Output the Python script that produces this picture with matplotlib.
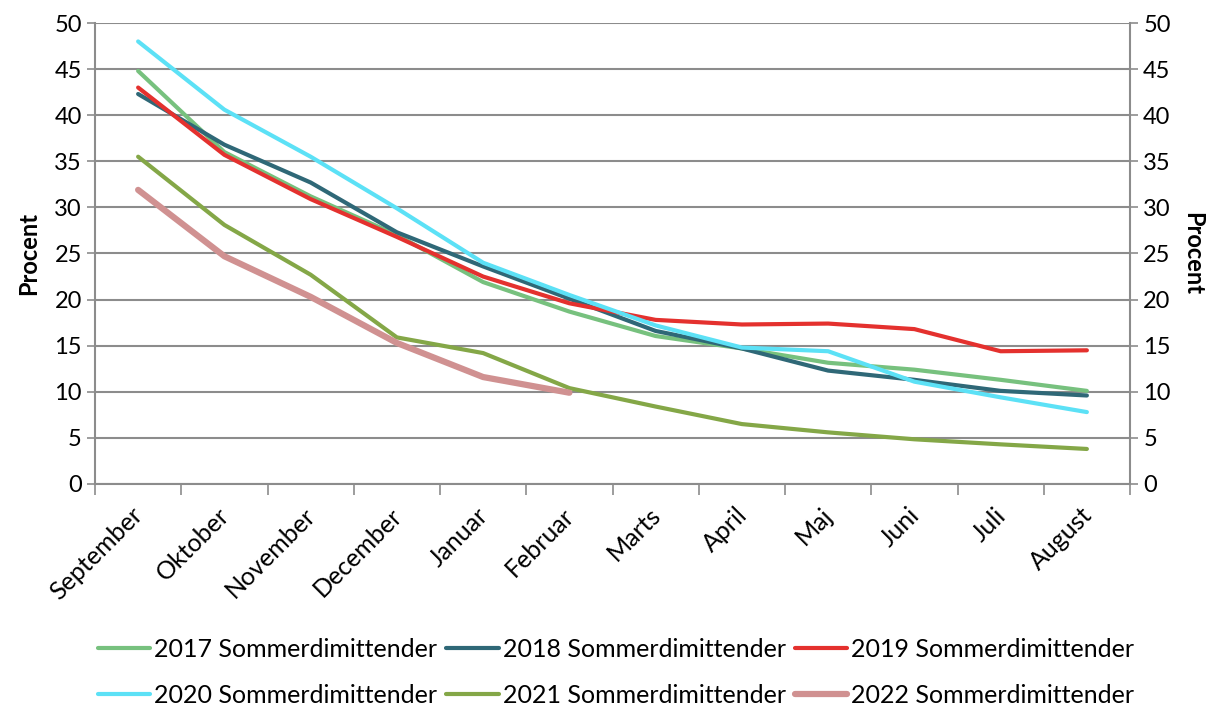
import matplotlib
matplotlib.use("Agg")
import matplotlib.pyplot as plt
import matplotlib.transforms as mtransforms
import numpy as np

plt.rcParams['font.family'] = ['Lato', 'DejaVu Sans']

months = ["September", "Oktober", "November", "December", "Januar", "Februar",
          "Marts", "April", "Maj", "Juni", "Juli", "August"]

s2017 = [44.8, 36.0, 31.2, 27.0, 21.9, 18.7, 16.05, 14.7, 13.15, 12.4, 11.3, 10.1]
s2018 = [42.3, 36.8, 32.7, 27.3, 23.6, 20.1, 16.6, 14.7, 12.3, 11.3, 10.1, 9.6]
s2019 = [43.0, 35.7, 30.9, 26.8, 22.5, 19.6, 17.8, 17.3, 17.4, 16.8, 14.4, 14.5]
s2020 = [48.0, 40.6, 35.5, 29.9, 24.0, 20.5, 17.2, 14.8, 14.4, 11.1, 9.4, 7.8]
s2021 = [35.5, 28.1, 22.7, 15.9, 14.2, 10.4, 8.4, 6.5, 5.6, 4.85, 4.3, 3.8]
s2022 = [31.9, 24.7, 20.3, 15.3, 11.6, 9.9]

series = [
    ("2017 Sommerdimittender", s2017, "#77C17E", 3.0),
    ("2018 Sommerdimittender", s2018, "#2F6877", 3.0),
    ("2019 Sommerdimittender", s2019, "#E4312E", 3.0),
    ("2020 Sommerdimittender", s2020, "#5CE1F6", 3.0),
    ("2021 Sommerdimittender", s2021, "#84A747", 3.0),
    ("2022 Sommerdimittender", s2022, "#D09191", 4.5),
]

FS = 17

fig = plt.figure(figsize=(12.15, 7.08), dpi=100)
ax = fig.add_axes([95/1215, 1-484/708, (1130-95)/1215, (484-23)/708])

for name, vals, col, lw in series:
    ax.plot(np.arange(len(vals)), vals, color=col, lw=lw, label=name,
            solid_capstyle='round', solid_joinstyle='round', zorder=3)

ax.set_xlim(-0.5, 11.5)
ax.set_ylim(0, 50)
ax.set_yticks(np.arange(0, 51, 5))
ax.yaxis.grid(True, color='#8C8C8C', lw=1.5)
ax.set_axisbelow(True)

ax.set_xticks(np.arange(12))
ax.set_xticklabels(months, rotation=45, ha='right', rotation_mode='anchor', fontsize=18)
ax.set_xticks(np.arange(-0.5, 12, 1), minor=True)
ax.tick_params(axis='x', which='major', length=0, pad=14)
ax.tick_params(axis='x', which='minor', length=8, width=1.2, color='#8C8C8C')
ax.tick_params(axis='y', length=6, width=1.2, color='#8C8C8C', labelsize=FS)
offset = mtransforms.ScaledTranslation(-7/100, 0, fig.dpi_scale_trans)
for lbl in ax.get_xticklabels():
    lbl.set_transform(lbl.get_transform() + offset)

for s in ['left', 'right', 'bottom']:
    ax.spines[s].set_color('#8C8C8C')
    ax.spines[s].set_linewidth(1.5)
ax.spines['top'].set_visible(False)

ax.set_ylabel("Procent", fontsize=FS, fontweight='bold', labelpad=10)

ax2 = ax.twinx()
ax2.set_ylim(0, 50)
ax2.set_yticks(np.arange(0, 51, 5))
ax2.tick_params(axis='y', length=6, width=1.2, color='#8C8C8C', labelsize=FS)
for s in ax2.spines.values():
    s.set_visible(False)
ax2.set_ylabel("Procent", fontsize=FS, fontweight='bold', rotation=-90, labelpad=24)

handles, labels = ax.get_legend_handles_labels()
order = [0, 3, 1, 4, 2, 5]
fig.legend([handles[i] for i in order], [labels[i] for i in order], ncol=3,
           loc='lower center', bbox_to_anchor=(0.507, -0.03),
           frameon=False, fontsize=18, handlelength=2.1, handletextpad=0.16,
           columnspacing=0.36, labelspacing=0.9)

fig.savefig("out.png", dpi=100)
